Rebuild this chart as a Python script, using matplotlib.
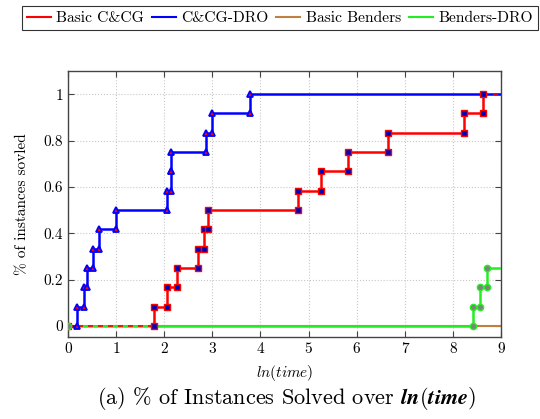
import matplotlib
matplotlib.use("Agg")
from matplotlib import pyplot as plt

plt.rcParams['font.family'] = ['cmr10', 'DejaVu Serif']
plt.rcParams['mathtext.fontset'] = 'cm'
plt.rcParams['axes.formatter.use_mathtext'] = True

# number of instances, ln(solve time) of each solved instance
n_inst = 12
t_basic_ccg = [1.79, 2.06, 2.27, 2.71, 2.83, 2.90, 4.79, 5.25, 5.81, 6.66, 8.24, 8.62]
t_ccg_dro = [0.18, 0.34, 0.40, 0.53, 0.64, 0.99, 2.05, 2.15, 2.15, 2.87, 3.00, 3.78]
t_basic_benders = []
t_benders_dro = [8.42, 8.57, 8.70]
x_max = 9

xticks = [0, 1, 2, 3, 4, 5, 6, 7, 8, 9]
yticks = [0, 0.2, 0.4, 0.6, 0.8, 1]


def steps(times):
    # staircase through the solve times, start at 0, run out to x_max
    xs, ys = [0], [0]
    mx, my = [0], [0]
    for i, t in enumerate(times):
        xs += [t, t]
        ys += [i / n_inst, (i + 1) / n_inst]
        mx += [t, t]
        my += [i / n_inst, (i + 1) / n_inst]
    xs.append(x_max)
    ys.append(len(times) / n_inst)
    return xs, ys, mx, my


fig = plt.figure(figsize=(5.4, 4.19), dpi=100)
ax = fig.add_axes([0.1259, 0.1957, 0.8019, 0.6348])

red, blue, brown, green = '#ff0000', '#0000ff', '#bf8040', '#22ee22'

# Basic Benders: nothing solved
bx, by, _, _ = steps(t_basic_benders)
ax.plot(bx, by, color=brown, lw=1.5, zorder=2)

# Benders-DRO
gx, gy, gmx, gmy = steps(t_benders_dro)
ax.plot(gx, gy, color=green, lw=1.8, zorder=3)

# C&CG-DRO
cx, cy, cmx, cmy = steps(t_ccg_dro)
ax.plot(cx, cy, color=blue, lw=1.8, zorder=4)
ax.plot(cmx[1:], cmy[1:], ls='none', marker='^', ms=5, mfc=red, mec=blue, mew=1.3, zorder=6)

# Basic C&CG (dashed lead-in and tail)
rx, ry, rmx, rmy = steps(t_basic_ccg)
ax.plot(rx[1:-1], ry[1:-1], color=red, lw=1.8, zorder=5)
ax.plot(rx[:2], ry[:2], color=red, lw=1.2, ls=(0, (3, 3)), zorder=5)
ax.plot(rx[-2:], ry[-2:], color=red, lw=1.2, ls=(0, (3, 3)), zorder=5)
ax.plot(rmx, rmy, ls='none', marker='s', ms=5, mfc='#0000bb', mec=red, mew=1.0, zorder=7)

ax.plot(gmx, gmy, ls='none', marker='o', ms=4.5, mfc='#808080', mec=green, mew=1.0, zorder=8)

ax.set_xlim(0, x_max)
ax.set_ylim(-0.048, 1.1)
ax.set_xticks(xticks)
ax.set_xticklabels([str(v) for v in xticks])
ax.set_yticks(yticks)
ax.set_yticklabels(['0', '0.2', '0.4', '0.6', '0.8', '1'])
ax.tick_params(direction='in', top=True, right=True, labelsize=11, length=4, color='#444444')
ax.grid(True, ls=':', color='#c8c8c8', lw=0.8)
for s in ax.spines.values():
    s.set_color('#444444')
    s.set_linewidth(1.0)

ax.set_xlabel(r'$ln(time)$', fontsize=11, labelpad=5)
ax.set_ylabel('% of instances sovled', fontsize=11, labelpad=10)

handles = [
    plt.Line2D([], [], color=red, lw=1.5),
    plt.Line2D([], [], color=blue, lw=1.5),
    plt.Line2D([], [], color=brown, lw=1.5),
    plt.Line2D([], [], color=green, lw=1.5),
]
labels = ['Basic C&CG', 'C&CG-DRO', 'Basic Benders', 'Benders-DRO']
leg = fig.legend(handles, labels, loc='upper center', bbox_to_anchor=(0.518, 0.992), ncol=4,
                 fontsize=11.2, frameon=True, fancybox=False, edgecolor='black',
                 handlelength=1.55, handletextpad=0.35, columnspacing=0.5, borderpad=0.3,
                 borderaxespad=0.2)
leg.get_frame().set_linewidth(0.8)

fig.text(0.53, 0.048, r'(a) % of Instances Solved over $\boldsymbol{ln(time)}$',
         ha='center', va='center', fontsize=16)

fig.savefig('out.png', dpi=100)
